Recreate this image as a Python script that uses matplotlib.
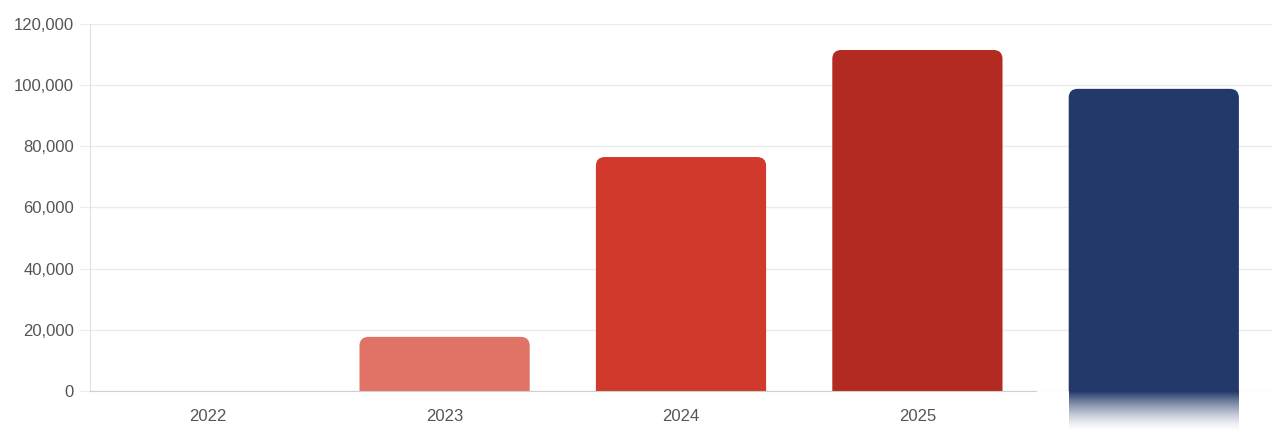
import matplotlib.pyplot as plt
import numpy as np
from matplotlib.patches import PathPatch
from matplotlib.path import Path
from matplotlib.colors import to_rgb
from matplotlib.ticker import FuncFormatter

plt.rcParams['font.family'] = ['Liberation Sans', 'DejaVu Sans']

years = ['2022', '2023', '2024', '2025', '']
values = [0, 17700, 76500, 111500, 98800]
colors = ['#E07366', '#E07366', '#D0392B', '#B22A20', '#22396A']

fig = plt.figure(figsize=(12.8, 4.42), dpi=100)
ax = fig.add_axes([90 / 1280, 1 - 391 / 442, 1182 / 1280, 367 / 442])
ax.set_xlim(-0.5, len(years) - 0.5)
ax.set_ylim(0, 120000)

# bar width in data units, rounded top corners
bw = 0.72
rx = 9 / 1182 * len(years)   # ~9px corner in x data units
ry = 9 / 367 * 120000        # ~9px corner in y data units


def rounded_bar(x, h, color):
    if h <= 0:
        return
    l, r = x - bw / 2, x + bw / 2
    cy = min(ry, h)
    verts = [(l, 0), (l, h - cy), (l, h), (l + rx, h),
             (r - rx, h), (r, h), (r, h - cy), (r, 0), (l, 0)]
    codes = [Path.MOVETO, Path.LINETO, Path.CURVE3, Path.CURVE3,
             Path.LINETO, Path.CURVE3, Path.CURVE3, Path.LINETO, Path.CLOSEPOLY]
    ax.add_patch(PathPatch(Path(verts, codes), facecolor=color,
                           edgecolor='none', zorder=3))


for i, v in enumerate(values):
    rounded_bar(i, v, colors[i])

ax.set_yticks(np.arange(0, 120001, 20000))
ax.yaxis.set_major_formatter(FuncFormatter(lambda v, p: f'{int(v):,}'))
ax.set_xticks(range(len(years)))
ax.set_xticklabels(years)
ax.grid(axis='y', color='#EBEBEB', linewidth=1, zorder=0)
ax.tick_params(axis='y', length=7.2, color='#EBEBEB', labelsize=12,
               labelcolor='#555555', pad=4.3)
ax.tick_params(axis='x', length=0, labelsize=12, labelcolor='#555555', pad=13)

for s in ['top', 'right']:
    ax.spines[s].set_visible(False)
ax.spines['left'].set_color('#E0E0E0')
ax.spines['bottom'].set_color('#CFCFCF')
ax.spines['bottom'].set_zorder(4)
ax.spines['bottom'].set_bounds(-0.5, 3.5)

# blurred corner under the last bar: its colour bleeds down and fades out
h_px, w_px = 51, 245
rows = np.linspace(0, 1, h_px)
fade = np.ones((h_px, w_px, 4))
fade[..., 3] = 0
x0, x1 = 1069 - 1035, 1239 - 1035
blue = np.array(to_rgb(colors[-1]))
a = np.clip(1 - rows / 0.8, 0, 1) ** 1.5
fade[:, x0:x1, :3] = blue
fade[:, x0:x1, 3] = a[:, None]
fade_ax = fig.add_axes([1035 / 1280, 0, w_px / 1280, h_px / 442])
fade_ax.imshow(fade, aspect='auto', extent=[0, 1, 0, 1], origin='upper',
               interpolation='bilinear')
fade_ax.axis('off')

fig.savefig('out.png', dpi=100)
